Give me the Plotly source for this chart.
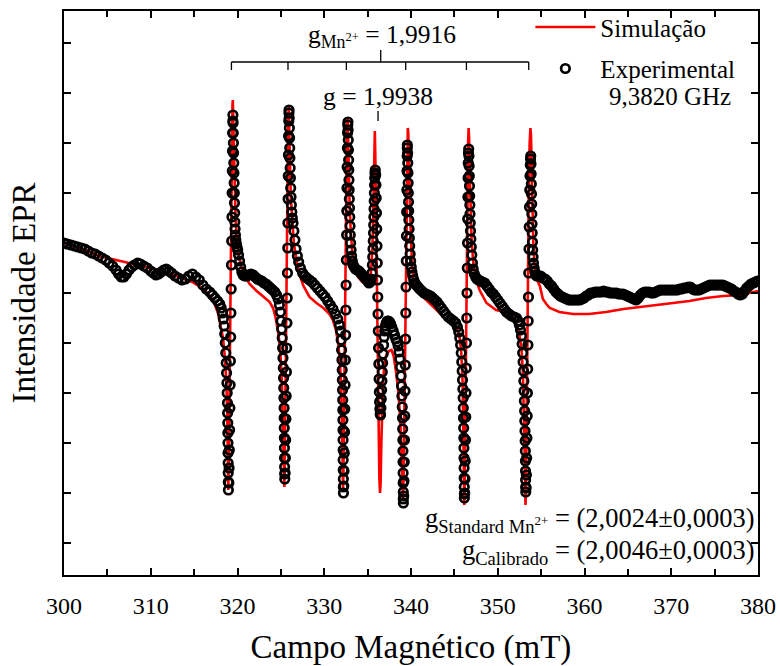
import plotly.graph_objects as go

FONT = "'Liberation Serif', 'Times New Roman', 'DejaVu Serif', serif"

# ---------------- experimental data (B in mT, intensity in a.u.) ----------------
exp_baseline = [
    (300.0, 50), (300.4, 49), (300.8, 48), (301.2, 47), (301.6, 46), (302.0, 45),
    (302.4, 44), (302.8, 42), (303.2, 40), (303.6, 39), (304.0, 37), (304.4, 35),
    (304.8, 33), (305.2, 30), (305.6, 27), (306.0, 23), (306.3, 19), (306.6, 16),
    (306.9, 16), (307.2, 19), (307.5, 23), (307.8, 26), (308.1, 28), (308.5, 30),
    (308.8, 29), (309.2, 27), (309.6, 25), (310.0, 22), (310.3, 20), (310.6, 18),
    (310.9, 19), (311.2, 21), (311.5, 23), (311.8, 24), (312.1, 22), (312.4, 20),
    (312.8, 17), (313.2, 15), (313.6, 13), (314.0, 14), (314.4, 17), (314.8, 19),
    (315.2, 16), (315.6, 13), (316.0, 8), (316.4, 4), (316.8, 1), (317.1, -2),
    (317.4, -5), (317.7, -8),
]
exp_line1 = [
    (317.95, -11), (318.12, -15), (318.26, -20), (318.37, -26), (318.46, -33),
    (318.53, -41), (318.59, -50), (318.65, -60), (318.70, -70), (318.74, -80),
    (318.78, -90), (318.81, -100), (318.84, -110), (318.86, -120), (318.88, -130),
    (318.89, -140), (318.90, -150), (318.91, -160), (318.92, -170), (318.93, -180),
    (318.94, -189), (318.95, -197),
    (319.00, -190), (319.03, -175), (319.06, -157), (319.09, -137), (319.12, -115),
    (319.15, -92), (319.18, -68), (319.21, -44), (319.24, -20), (319.27, 4),
    (319.30, 28), (319.33, 52), (319.36, 76), (319.38, 100), (319.40, 122),
    (319.42, 142), (319.44, 160), (319.46, 172), (319.47, 178),
    (319.49, 170), (319.51, 160), (319.53, 150), (319.55, 140), (319.57, 130),
    (319.59, 120), (319.61, 110), (319.63, 100), (319.65, 90), (319.67, 80),
    (319.69, 71), (319.72, 64), (319.76, 58), (319.81, 53), (319.87, 49),
    (319.94, 46), (320.02, 43), (320.12, 38), (320.24, 32), (320.36, 26),
    (320.50, 21), (320.65, 18), (320.85, 17), (321.05, 17), (321.30, 18),
    (321.55, 19), (321.80, 18), (322.05, 16), (322.30, 14), (322.55, 13),
    (322.80, 12), (323.05, 10), (323.30, 9), (323.55, 7), (323.80, 5),
    (324.05, 3), (324.30, 1), (324.50, -2), (324.68, -6), (324.83, -12),
    (324.95, -19),
]
exp_line2 = [
    (325.02, -28), (325.09, -36), (325.15, -45), (325.20, -55), (325.24, -65),
    (325.28, -75), (325.31, -85), (325.33, -95), (325.35, -105), (325.37, -115),
    (325.38, -125), (325.39, -135), (325.40, -145), (325.41, -155), (325.42, -165),
    (325.43, -174), (325.44, -181), (325.45, -186),
    (325.49, -180), (325.52, -165), (325.55, -147), (325.58, -126), (325.61, -103),
    (325.64, -79), (325.67, -55), (325.70, -30), (325.73, -5), (325.76, 20),
    (325.79, 45), (325.81, 70), (325.83, 94), (325.85, 117), (325.87, 138),
    (325.89, 157), (325.91, 172), (325.93, 180), (325.94, 183),
    (325.96, 175), (325.98, 165), (326.00, 155), (326.02, 145), (326.04, 135),
    (326.07, 125), (326.10, 115), (326.13, 105), (326.17, 96), (326.21, 88),
    (326.26, 81), (326.32, 75), (326.40, 70), (326.50, 62), (326.62, 53),
    (326.75, 44), (326.90, 37), (327.05, 31), (327.25, 25), (327.50, 20),
    (327.75, 17), (328.00, 15), (328.30, 13), (328.60, 11), (328.90, 8),
    (329.20, 5), (329.50, 2), (329.80, -1), (330.10, -4), (330.40, -8),
    (330.70, -12), (331.00, -16), (331.30, -21), (331.55, -26), (331.75, -32),
]
exp_line3 = [
    (331.88, -38), (331.95, -47), (332.00, -57), (332.04, -67), (332.07, -77),
    (332.09, -87), (332.11, -97), (332.13, -107), (332.14, -117), (332.15, -127),
    (332.16, -137), (332.17, -147), (332.18, -157), (332.18, -167), (332.19, -177),
    (332.20, -186), (332.20, -194), (332.21, -200),
    (332.25, -193), (332.28, -178), (332.31, -160), (332.34, -139), (332.37, -116),
    (332.40, -92), (332.43, -67), (332.46, -42), (332.49, -17), (332.52, 8),
    (332.55, 33), (332.58, 58), (332.60, 82), (332.62, 105), (332.64, 126),
    (332.67, 145), (332.69, 160), (332.71, 168), (332.73, 171),
    (332.75, 163), (332.77, 153), (332.79, 143), (332.81, 133), (332.83, 123),
    (332.85, 113), (332.87, 103), (332.89, 94), (332.91, 85), (332.94, 76),
    (332.97, 67), (333.00, 58), (333.04, 50), (333.09, 43), (333.15, 37),
    (333.23, 32), (333.33, 28), (333.45, 26), (333.60, 24), (333.80, 23),
    (334.00, 22), (334.20, 20), (334.40, 18), (334.60, 16), (334.80, 14),
    (335.00, 12), (335.15, 10), (335.30, 11), (335.42, 14),
]
exp_central = [
    (335.50, 20), (335.55, 28), (335.59, 36), (335.62, 44), (335.65, 52),
    (335.68, 60), (335.70, 68), (335.72, 76), (335.74, 84), (335.76, 92),
    (335.78, 100), (335.80, 108), (335.82, 115), (335.85, 120), (335.88, 123),
    (335.93, 118), (335.96, 108), (335.99, 95), (336.02, 80), (336.05, 64),
    (336.08, 47), (336.11, 30), (336.14, 13), (336.17, -4), (336.20, -21),
    (336.23, -38), (336.26, -55), (336.29, -71), (336.32, -86), (336.35, -99),
    (336.38, -109), (336.41, -116), (336.45, -121), (336.49, -122),
    (336.53, -115), (336.57, -106), (336.61, -97), (336.65, -88), (336.69, -79),
    (336.73, -70), (336.78, -61), (336.84, -52), (336.90, -44), (336.97, -38),
    (337.05, -33), (337.15, -30), (337.27, -28), (337.40, -28), (337.53, -29),
    (337.65, -31), (337.78, -34), (337.95, -38), (338.10, -42), (338.25, -46),
    (338.40, -49), (338.52, -53), (338.62, -59), (338.71, -66), (338.79, -74),
    (338.86, -83),
]
exp_line4 = [
    (338.91, -93), (338.95, -103), (338.99, -114), (339.02, -125), (339.04, -136),
    (339.06, -147), (339.07, -158), (339.08, -169), (339.09, -180), (339.10, -190),
    (339.11, -199), (339.11, -206), (339.12, -210),
    (339.16, -203), (339.19, -188), (339.22, -169), (339.25, -147), (339.28, -123),
    (339.31, -98), (339.34, -72), (339.37, -46), (339.40, -20), (339.43, 6),
    (339.46, 32), (339.48, 57), (339.50, 81), (339.52, 103), (339.54, 122),
    (339.56, 137), (339.57, 145), (339.58, 148),
    (339.61, 140), (339.63, 130), (339.65, 120), (339.67, 110), (339.69, 100),
    (339.71, 91), (339.73, 82), (339.75, 73), (339.78, 64), (339.81, 55),
    (339.85, 47), (339.90, 39), (339.96, 32), (340.03, 26), (340.11, 21),
    (340.20, 17), (340.32, 13), (340.45, 10), (340.60, 8), (340.80, 6),
    (341.00, 4), (341.25, 2), (341.50, 0), (341.75, -1), (342.00, -2),
    (342.25, -3), (342.50, -5), (342.75, -7), (343.00, -9), (343.25, -12),
    (343.50, -15), (343.75, -18), (344.00, -21), (344.30, -24), (344.60, -26),
    (344.90, -28), (345.15, -30), (345.35, -34), (345.50, -39), (345.62, -45),
]
exp_line5 = [
    (345.72, -52), (345.79, -60), (345.85, -69), (345.90, -78), (345.94, -87),
    (345.98, -96), (346.01, -105), (346.03, -115), (346.05, -125), (346.07, -135),
    (346.09, -145), (346.10, -155), (346.11, -165), (346.12, -175), (346.13, -185),
    (346.14, -194), (346.15, -201), (346.15, -205),
    (346.19, -200), (346.22, -186), (346.25, -168), (346.28, -147), (346.31, -124),
    (346.34, -100), (346.37, -75), (346.40, -50), (346.43, -25), (346.46, 0),
    (346.49, 25), (346.52, 50), (346.54, 74), (346.56, 96), (346.58, 115),
    (346.60, 130), (346.62, 140), (346.65, 144),
    (346.68, 137), (346.70, 127), (346.72, 117), (346.74, 107), (346.76, 97),
    (346.78, 88), (346.80, 79), (346.83, 70), (346.86, 62), (346.90, 54),
    (346.95, 46), (347.01, 38), (347.08, 30), (347.17, 24), (347.30, 19),
    (347.45, 16), (347.60, 14), (347.80, 13), (348.00, 12), (348.25, 11),
    (348.50, 10), (348.75, 7), (349.00, 4), (349.25, 1), (349.50, -1),
    (349.75, -4), (350.00, -7), (350.25, -10), (350.50, -13), (350.75, -16),
    (351.00, -19), (351.30, -21), (351.60, -23), (351.90, -24), (352.15, -25),
    (352.35, -28), (352.50, -32), (352.62, -37),
]
exp_line6 = [
    (352.74, -43), (352.81, -51), (352.87, -60), (352.92, -69), (352.97, -78),
    (353.01, -88), (353.04, -98), (353.07, -108), (353.10, -118), (353.12, -128),
    (353.14, -138), (353.16, -148), (353.18, -158), (353.19, -168), (353.20, -178),
    (353.21, -187), (353.22, -194), (353.23, -199),
    (353.27, -195), (353.30, -182), (353.33, -165), (353.36, -145), (353.39, -123),
    (353.42, -100), (353.45, -76), (353.48, -52), (353.51, -28), (353.54, -4),
    (353.57, 20), (353.60, 44), (353.63, 66), (353.66, 86), (353.69, 103),
    (353.72, 117), (353.75, 128), (353.78, 134), (353.80, 137),
    (353.83, 129), (353.85, 119), (353.87, 109), (353.89, 99), (353.91, 89),
    (353.93, 79), (353.95, 69), (353.97, 60), (354.00, 51), (354.03, 43),
    (354.07, 36), (354.12, 30), (354.19, 25), (354.28, 21), (354.38, 18),
    (354.50, 17), (354.65, 17), (354.80, 17),
]
exp_tail = [
    (354.95, 17), (355.20, 15), (355.45, 14), (355.70, 12), (355.95, 9),
    (356.20, 7), (356.45, 4), (356.70, 1), (356.95, -1), (357.20, -3),
    (357.45, -4), (357.70, -5), (357.95, -6), (358.20, -7), (358.45, -7),
    (358.70, -7), (358.95, -7), (359.20, -7), (359.45, -7), (359.70, -6),
    (359.95, -5), (360.20, -3), (360.45, -2), (360.70, 0), (360.95, 0),
    (361.20, 1), (361.45, 1), (361.70, 1), (361.95, 1), (362.20, 2),
    (362.45, 1), (362.70, 1), (362.95, 0), (363.20, 0), (363.45, 0),
    (363.70, 0), (363.95, -1), (364.20, -1), (364.45, -1), (364.70, -2),
    (364.95, -3), (365.20, -4), (365.45, -5), (365.70, -6), (365.95, -7),
    (366.20, -5), (366.45, -2), (366.70, 0), (366.95, 1), (367.20, 1),
    (367.45, 1), (367.70, 0), (367.95, 0), (368.20, 1), (368.45, 2),
    (368.70, 3), (368.95, 3), (369.20, 3), (369.45, 3), (369.70, 3),
    (369.95, 3), (370.20, 3), (370.45, 3), (370.70, 3), (370.95, 4),
    (371.20, 4), (371.45, 5), (371.70, 5), (371.95, 6), (372.20, 6),
    (372.45, 4), (372.70, 3), (372.95, 3), (373.20, 3), (373.45, 4),
    (373.70, 5), (373.95, 6), (374.20, 7), (374.45, 8), (374.70, 8),
    (374.95, 8), (375.20, 8), (375.45, 8), (375.70, 8), (375.95, 8),
    (376.20, 7), (376.45, 6), (376.70, 5), (376.95, 4), (377.20, 2),
    (377.45, 1), (377.70, -1), (377.95, -2), (378.20, -1), (378.45, 2),
    (378.70, 5), (378.95, 7), (379.20, 9), (379.45, 10), (379.70, 11),
    (379.95, 12),
]

# ---------------- simulation ----------------
sim_curve = [
    (300.0, 50), (301.0, 47), (302.0, 44), (303.0, 41), (304.0, 37), (305.0, 35),
    (306.0, 33), (307.5, 30), (309.0, 27), (310.5, 24), (312.0, 20), (313.5, 15),
    (314.8, 11), (315.6, 7), (316.4, 1), (317.0, -5), (317.4, -12), (317.75, -20),
    (318.05, -32), (318.33, -45), (318.55, -65), (318.72, -90), (318.82, -125),
    (318.90, -170), (318.94, -197), (318.99, -175), (319.05, -120), (319.12, -40),
    (319.20, 40), (319.28, 110), (319.36, 165), (319.42, 188), (319.46, 193),
    (319.51, 175), (319.58, 135), (319.67, 100), (319.78, 75), (319.93, 55),
    (320.15, 38), (320.45, 26), (320.90, 16), (321.40, 9), (322.20, 2),
    (322.90, -3), (323.70, -9), (324.10, -15), (324.40, -25), (324.70, -40),
    (324.95, -60), (325.12, -90), (325.25, -130), (325.34, -175), (325.40, -194),
    (325.45, -170), (325.52, -100), (325.60, -10), (325.68, 70), (325.76, 130),
    (325.84, 172), (325.91, 186), (325.97, 170), (326.05, 130), (326.15, 95),
    (326.30, 70), (326.50, 50), (326.80, 32), (327.20, 17), (327.60, 7),
    (328.30, -4), (329.10, -10), (329.90, -15), (330.60, -21), (331.00, -27),
    (331.35, -37), (331.60, -50), (331.80, -68), (331.95, -95), (332.05, -135),
    (332.13, -180), (332.17, -199), (332.22, -175), (332.29, -110), (332.37, -20),
    (332.45, 60), (332.53, 125), (332.62, 165), (332.70, 176), (332.76, 160),
    (332.83, 125), (332.92, 90), (333.05, 62), (333.25, 40), (333.55, 26),
    (333.90, 16), (334.40, 11), (334.90, 10), (335.20, 13), (335.40, 22),
    (335.55, 45), (335.65, 80), (335.73, 125), (335.79, 155), (335.83, 162),
    (335.88, 140), (335.95, 85), (336.05, 10), (336.15, -70), (336.25, -140),
    (336.35, -185), (336.43, -200), (336.50, -190), (336.58, -150), (336.68, -110),
    (336.80, -85), (336.95, -70), (337.15, -62), (337.45, -58), (337.75, -57),
    (338.00, -63), (338.30, -80), (338.55, -100), (338.75, -125), (338.90, -160),
    (339.00, -195), (339.08, -208), (339.14, -190), (339.22, -130), (339.30, -60),
    (339.38, 20), (339.47, 95), (339.56, 145), (339.63, 165), (339.69, 160),
    (339.76, 125), (339.85, 90), (339.97, 60), (340.12, 30), (340.30, 10),
    (340.70, 3), (341.40, -4), (342.60, -14), (343.40, -21), (344.10, -27),
    (344.90, -30), (345.30, -35), (345.60, -44), (345.80, -60), (345.95, -90),
    (346.05, -140), (346.10, -185), (346.14, -212), (346.19, -190), (346.26, -120),
    (346.34, -30), (346.42, 50), (346.50, 115), (346.58, 150), (346.64, 165),
    (346.70, 155), (346.77, 120), (346.86, 85), (346.98, 55), (347.15, 33),
    (347.45, 15), (347.90, 3), (348.70, -10), (349.80, -17), (350.80, -19),
    (351.40, -20), (351.90, -25), (352.20, -32), (352.50, -42), (352.73, -55),
    (352.90, -80), (353.02, -120), (353.12, -170), (353.20, -212), (353.26, -195),
    (353.33, -130), (353.41, -40), (353.50, 40), (353.59, 110), (353.68, 150),
    (353.77, 165), (353.83, 158), (353.90, 120), (353.99, 80), (354.10, 50),
    (354.25, 28), (354.45, 15), (354.85, 7), (355.20, -6), (355.60, -11),
    (356.00, -15), (357.10, -19), (358.70, -21), (360.50, -21), (362.50, -19),
    (364.50, -16), (366.40, -14), (368.30, -12), (370.20, -10), (372.10, -8),
    (374.00, -5), (376.00, -3), (377.90, -2), (379.00, 0), (380.00, 2),
]

# ---------------- annotation markers (field positions of the lines) ----------------
mn_line_fields = [319.30, 325.82, 332.55, 339.39, 346.39, 353.57]
mn_center_field = 336.51
g_line_field = 336.20
bracket_level = 231
bracket_tick_down = 223
bracket_tick_up = 243


def unzip(*segments):
    xs, ys = [], []
    for seg in segments:
        for b, v in seg:
            xs.append(b)
            ys.append(v)
    return xs, ys


def font(size):
    return dict(family=FONT, size=size, color="black")


exp_B, exp_I = unzip(exp_baseline, exp_line1, exp_line2, exp_line3, exp_central,
                     exp_line4, exp_line5, exp_line6, exp_tail)
sim_B, sim_I = unzip(sim_curve)

fig = go.Figure()
fig.add_trace(go.Scatter(
    x=sim_B, y=sim_I, mode="lines", name="Simulação", legendgroup="sim",
    line=dict(color="#ff0000", width=2.6),
))
fig.add_trace(go.Scatter(
    x=exp_B, y=exp_I, mode="markers", name="Experimental", legendgroup="exp",
    marker=dict(symbol="circle-open", size=8.5, color="black", line=dict(width=2.7)),
))

shapes = [dict(type="line", xref="x", yref="y", x0=mn_line_fields[0], x1=mn_line_fields[-1],
               y0=bracket_level, y1=bracket_level, line=dict(color="black", width=1.3))]
for f in mn_line_fields:
    shapes.append(dict(type="line", xref="x", yref="y", x0=f, x1=f,
                       y0=bracket_level, y1=bracket_tick_down, line=dict(color="black", width=1.3)))
shapes.append(dict(type="line", xref="x", yref="y", x0=mn_center_field, x1=mn_center_field,
                   y0=bracket_level, y1=bracket_tick_up, line=dict(color="black", width=1.3)))
shapes.append(dict(type="line", xref="x", yref="y", x0=g_line_field, x1=g_line_field,
                   y0=182, y1=172, line=dict(color="black", width=1.3)))

annotations = [
    dict(text="g<sub>Mn<sup>2+</sup></sub> = 1,9916", x=336.62, y=257, xref="x", yref="y",
         showarrow=False, xanchor="center", yanchor="middle", font=font(25.5)),
    dict(text="g = 1,9938", x=336.16, y=197, xref="x", yref="y",
         showarrow=False, xanchor="center", yanchor="middle", font=font(25.5)),
    dict(text="9,3820 GHz", x=0.782, y=0.848, xref="paper", yref="paper",
         showarrow=False, xanchor="left", yanchor="middle", font=font(25)),
    dict(text="g<sub>Standard Mn<sup>2+</sup></sub> = (2,0024±0,0003)", x=0.997, y=0.097,
         xref="paper", yref="paper", showarrow=False, xanchor="right", yanchor="middle",
         font=font(26.5)),
    dict(text="g<sub>Calibrado</sub> = (2,0046±0,0003)", x=0.997, y=0.040,
         xref="paper", yref="paper", showarrow=False, xanchor="right", yanchor="middle",
         font=font(26.5)),
]

fig.update_layout(
    width=780, height=666,
    margin=dict(l=64, r=22, t=11, b=91, autoexpand=False),
    paper_bgcolor="white", plot_bgcolor="white",
    font=font(20),
    shapes=shapes, annotations=annotations,
    legend=dict(x=0.672, y=1.012, xanchor="left", yanchor="top", font=font(25),
                bgcolor="rgba(0,0,0,0)", traceorder="grouped", tracegroupgap=6,
                itemwidth=60),
    showlegend=True,
)
fig.update_xaxes(
    range=[300, 380], tick0=300, dtick=10, ticks="inside", ticklen=7, tickwidth=2,
    tickcolor="black", showline=True, linewidth=2, linecolor="black", mirror="ticks",
    showgrid=False, zeroline=False, tickfont=font(24), ticklabelstandoff=8,
    minor=dict(dtick=5, ticks="inside", ticklen=6, tickwidth=2, tickcolor="black"),
    title=dict(text="Campo Magnético (mT)", font=font(33), standoff=18),
)
fig.update_yaxes(
    range=[-282, 282], tick0=0, dtick=50, ticks="inside", ticklen=7, tickwidth=2,
    tickcolor="black", showline=True, linewidth=2, linecolor="black", mirror="ticks",
    showgrid=False, zeroline=False, showticklabels=False,
    title=dict(text="Intensidade EPR", font=font(33), standoff=16),
)

fig.write_html("out.html")
